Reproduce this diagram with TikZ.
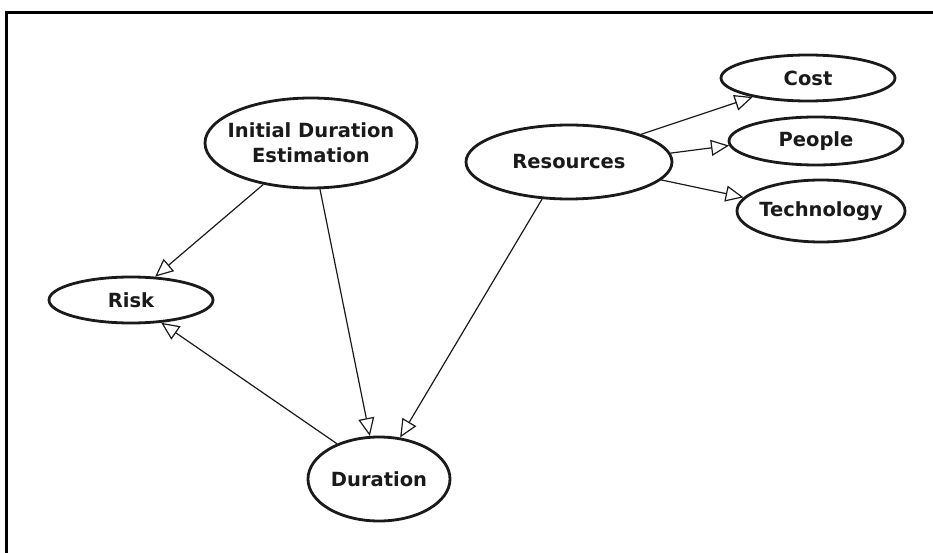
\documentclass[tikz,border=0pt]{standalone}
\usepackage{fontspec}
\setmainfont{DejaVu Sans}
\usetikzlibrary{shapes.geometric,arrows.meta}
\definecolor{ink}{HTML}{1A1A1A}
\tikzset{
  concept/.style={ellipse, draw=ink, line width=2.8pt, fill=white,
    inner xsep=-25pt, inner ysep=-8pt,
    font=\fontsize{19.5}{25}\selectfont\bfseries, align=center, text=ink},
  link/.style={draw=ink, line width=1.2pt,
    -{Triangle[length=18pt, width=16pt, fill=white, line width=1.2pt]}},
  frameline/.style={draw=black, line width=3pt}
}
\begin{document}
\begin{tikzpicture}[x=1pt, y=-1pt]
  \useasboundingbox (0,0) rectangle (933,553);
  % window frame (top and left edges)
  \coordinate (fl) at (6.5,553);
  \coordinate (fc) at (6.5,12.5);
  \coordinate (fr) at (933,12.5);
  \draw[frameline] (fl) -- (fc) -- (fr);

  % concepts
  \node[concept, minimum width=212pt, minimum height=90pt] (ide) at (311,143) {Initial Duration\\Estimation};
  \node[concept, minimum width=206pt, minimum height=74pt] (res) at (569,162) {Resources};
  \node[concept, minimum width=174pt, minimum height=46pt] (cost) at (808,78) {Cost};
  \node[concept, minimum width=174pt, minimum height=48pt] (people) at (816,141) {People};
  \node[concept, minimum width=168pt, minimum height=62pt] (tech) at (821,211) {Technology};
  \node[concept, minimum width=164pt, minimum height=46pt] (risk) at (131,300) {Risk};
  \node[concept, minimum width=142pt, minimum height=84pt] (dur) at (379,479) {Duration};

  % relations
  \draw[link] (ide.221) -- (risk.44);
  \draw[link] (dur.140) -- (risk.-37);
  \draw[link] (ide.-79) -- (dur.102);
  \draw[link] (res.234) -- (dur.63);
  \draw[link] (res.21) -- (cost.199);
  \draw[link] (res.5) -- (people.183);
  \draw[link] (res.-11) -- (tech.170);
\end{tikzpicture}
\end{document}
